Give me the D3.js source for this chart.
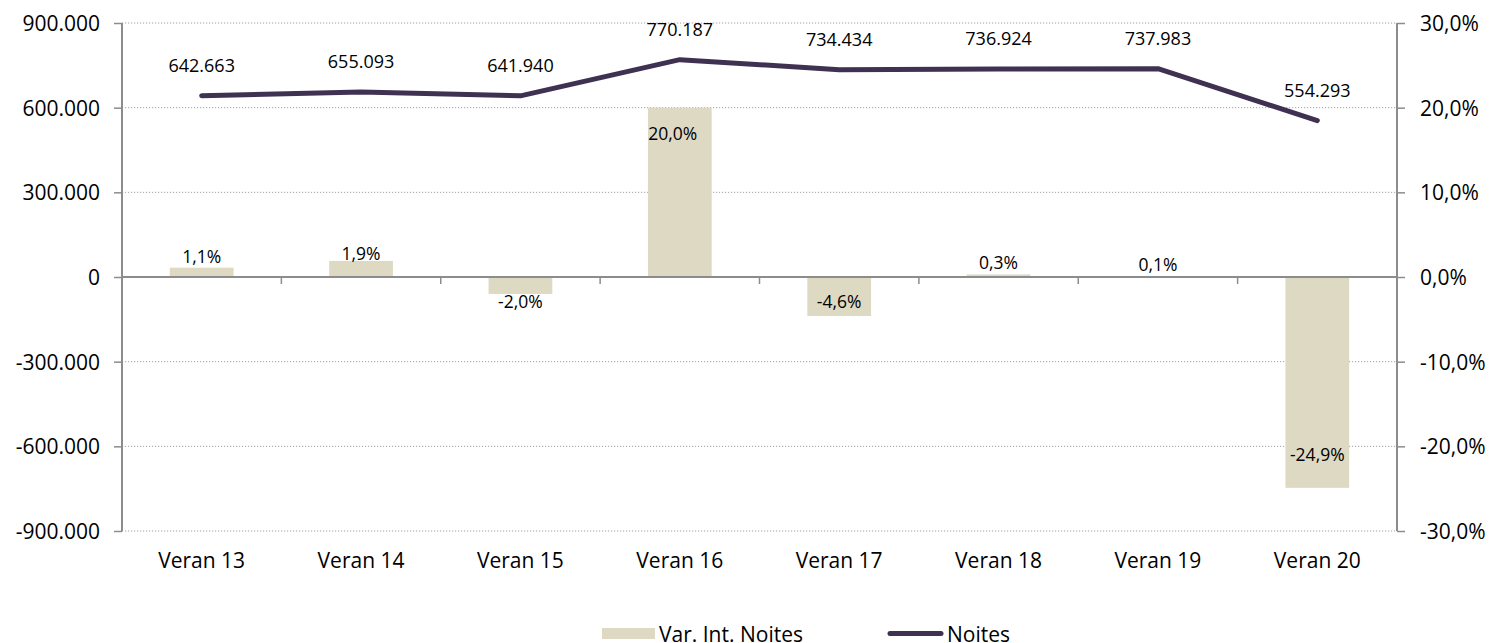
<!DOCTYPE html>
<html>
<head>
<meta charset="utf-8">
<script src="https://cdn.jsdelivr.net/npm/d3@7"></script>
<style>
  body { margin: 0; background: #fff; }
  svg text { font-family: "Open Sans", sans-serif; fill: #000; }
</style>
</head>
<body>
<svg width="1490" height="643"></svg>
<script>
const categories = ["Veran 13", "Veran 14", "Veran 15", "Veran 16", "Veran 17", "Veran 18", "Veran 19", "Veran 20"]
const noites = [642663, 655093, 641940, 770187, 734434, 736924, 737983, 554293]
const varNoites = [1.1, 1.9, -2.0, 20.0, -4.6, 0.3, 0.1, -24.9]
const leftTicks = [-900000, -600000, -300000, 0, 300000, 600000, 900000]
const rightTicks = [-30, -20, -10, 0, 10, 20, 30]

const barColor = "#ddd9c3"
const lineColor = "#3f3152"
const axisColor = "#8c8c8c"

const margin = {top: 23, right: 93, bottom: 112, left: 122}
const width = 1490 - margin.left - margin.right,
    height = 643 - margin.top - margin.bottom

const svg = d3.select("svg")
    .append("g")
    .attr("transform", `translate(${margin.left},${margin.top})`)

const x = d3.scaleBand()
    .domain(categories)
    .range([0, width])
    .paddingInner(0.6)
    .paddingOuter(0.3)

const yLeft = d3.scaleLinear()
    .domain([-900000, 900000])
    .range([height, 0])

const yRight = d3.scaleLinear()
    .domain([-30, 30])
    .range([height, 0])

const ptLocale = d3.formatLocale({decimal: ",", thousands: ".", grouping: [3], currency: ["", "€"], minus: "-"})
const fmtThousands = ptLocale.format(",d")
const fmtPct = ptLocale.format(".1f")
const pct = v => fmtPct(v) + "%"

// gridlines
svg.append("g")
    .selectAll("line")
    .data(leftTicks.filter(d => d !== 0))
    .enter().append("line")
    .attr("x1", 0)
    .attr("x2", width)
    .attr("y1", d => yLeft(d))
    .attr("y2", d => yLeft(d))
    .attr("stroke", "#a0a0a0")
    .attr("stroke-width", 1)
    .attr("stroke-dasharray", "1.2,1.8")

// bars
svg.append("g")
    .selectAll("rect")
    .data(varNoites)
    .enter().append("rect")
    .attr("x", (d, i) => x(categories[i]))
    .attr("y", d => yRight(Math.max(0, d)))
    .attr("width", x.bandwidth())
    .attr("height", d => Math.abs(yRight(d) - yRight(0)))
    .attr("fill", barColor)

// left axis
const leftAxis = svg.append("g")
    .call(d3.axisLeft(yLeft).tickValues(leftTicks).tickSize(8).tickPadding(14)
        .tickFormat(d => d === 0 ? "0" : fmtThousands(d)))
    .attr("font-family", null)
leftAxis.select(".domain").attr("stroke", axisColor).attr("stroke-width", 2)
    .attr("d", `M0,0V${height}`)
leftAxis.selectAll(".tick line").attr("stroke", axisColor).attr("stroke-width", 1.5)
leftAxis.selectAll("text").attr("font-size", 21).attr("dy", "0.36em")

// right axis
const rightAxis = svg.append("g")
    .attr("transform", `translate(${width},0)`)
    .call(d3.axisRight(yRight).tickValues(rightTicks).tickSize(8).tickPadding(15)
        .tickFormat(pct))
    .attr("font-family", null)
rightAxis.select(".domain").attr("stroke", axisColor).attr("stroke-width", 2)
    .attr("d", `M0,0V${height}`)
rightAxis.selectAll(".tick line").attr("stroke", axisColor).attr("stroke-width", 1.5)
rightAxis.selectAll("text").attr("font-size", 21).attr("dy", "0.36em")

// zero line with category separators
svg.append("line")
    .attr("x1", 0).attr("x2", width)
    .attr("y1", yLeft(0)).attr("y2", yLeft(0))
    .attr("stroke", axisColor).attr("stroke-width", 2)
svg.append("g")
    .selectAll("line")
    .data(d3.range(1, categories.length))
    .enter().append("line")
    .attr("x1", i => i * width / categories.length)
    .attr("x2", i => i * width / categories.length)
    .attr("y1", yLeft(0))
    .attr("y2", yLeft(0) + 7)
    .attr("stroke", axisColor).attr("stroke-width", 1.5)

// category labels
svg.append("g")
    .selectAll("text")
    .data(categories)
    .enter().append("text")
    .attr("x", d => x(d) + x.bandwidth() / 2)
    .attr("y", height + 37)
    .attr("text-anchor", "middle")
    .attr("font-size", 21)
    .text(d => d)

// line
const line = d3.line()
    .x((d, i) => x(categories[i]) + x.bandwidth() / 2)
    .y(d => yLeft(d))

svg.append("path")
    .datum(noites)
    .attr("d", line)
    .attr("fill", "none")
    .attr("stroke", lineColor)
    .attr("stroke-width", 5)
    .attr("stroke-linecap", "round")
    .attr("stroke-linejoin", "round")

// line labels
svg.append("g")
    .selectAll("text")
    .data(noites)
    .enter().append("text")
    .attr("x", (d, i) => x(categories[i]) + x.bandwidth() / 2)
    .attr("y", d => yLeft(d) - 24)
    .attr("text-anchor", "middle")
    .attr("font-size", 18)
    .text(d => fmtThousands(d))

// bar labels
svg.append("g")
    .selectAll("text")
    .data(varNoites)
    .enter().append("text")
    .attr("x", (d, i) => x(categories[i]) + x.bandwidth() / 2 - (d > 15 ? 7 : 0))
    .attr("y", d => {
        if (d > 15) return yRight(d) + 32
        if (d < -15) return yRight(d) - 27
        if (d >= 0) return Math.max(yRight(0) - 17, yRight(d) - 5)
        return yRight(0) + 31
    })
    .attr("text-anchor", "middle")
    .attr("font-size", 17.5)
    .text(d => pct(d))

// legend
const legend = d3.select("svg").append("g")
    .attr("transform", "translate(602,628)")
legend.append("rect")
    .attr("x", 0).attr("y", 0)
    .attr("width", 53).attr("height", 11)
    .attr("fill", barColor)
legend.append("text")
    .attr("x", 57).attr("y", 14)
    .attr("font-size", 21)
    .text("Var. Int. Noites")
legend.append("line")
    .attr("x1", 288).attr("x2", 339)
    .attr("y1", 5.5).attr("y2", 5.5)
    .attr("stroke", lineColor)
    .attr("stroke-width", 5)
    .attr("stroke-linecap", "round")
legend.append("text")
    .attr("x", 345).attr("y", 14)
    .attr("font-size", 21)
    .text("Noites")
</script>
</body>
</html>
